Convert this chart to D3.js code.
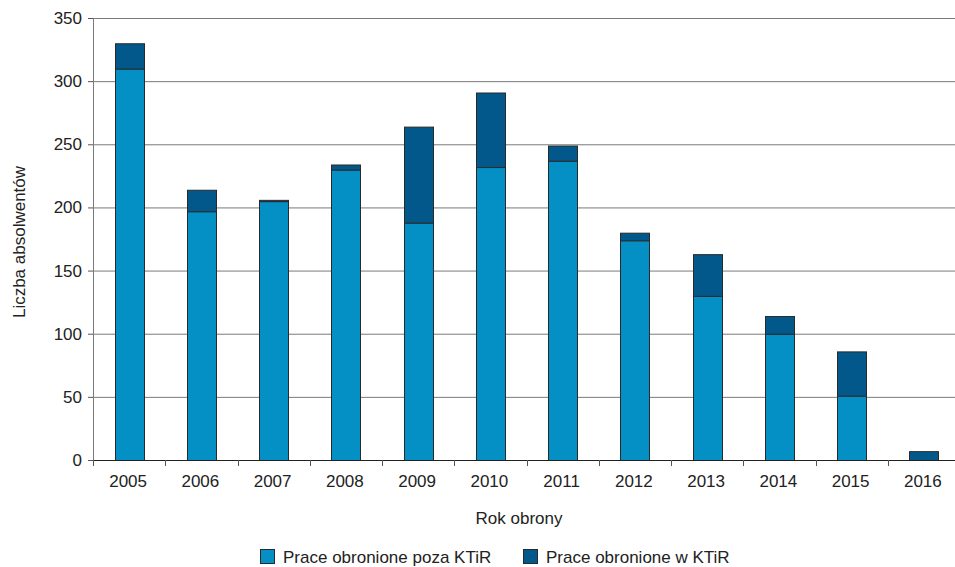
<!DOCTYPE html>
<html><head><meta charset="utf-8">
<script src="https://cdn.jsdelivr.net/npm/d3@7"></script>
<style>body{margin:0;background:#fff}svg{display:block;font-family:"Liberation Sans",Arial,sans-serif}</style>
</head><body><svg id="c" width="955" height="567"></svg>
<script>
const years = ["2005","2006","2007","2008","2009","2010","2011","2012","2013","2014","2015","2016"];
const outside = [310,197,205,230,188,232,237,174,130,100,51,0];
const inside = [20,17,1,4,76,59,12,6,33,14,35,7];
const yTicks = [0,50,100,150,200,250,300,350];
const seriesNames = ["Prace obronione poza KTiR","Prace obronione w KTiR"];
const colors = ["#0590c5","#02588b"];

const svg = d3.select("#c");
const m = {l:93, r:960, t:18, b:460};
const x = d3.scaleBand().domain(years).range([m.l, m.r]).paddingInner(0.6).paddingOuter(0.3);
const xb = d3.scaleBand().domain(years).range([m.l, m.r]);
const y = d3.scaleLinear().domain([0,350]).range([m.b, m.t]);

// gridlines
svg.append("g").selectAll("line").data(yTicks.filter(d=>d>0)).join("line")
  .attr("x1", m.l).attr("x2", 955).attr("y1", d=>y(d)+0.5).attr("y2", d=>y(d)+0.5)
  .attr("stroke", "#7a7a7a").attr("stroke-width", 1);

// bars
const data = years.map((yr,i)=>({year:yr, outside:outside[i], inside:inside[i]}));
const stack = d3.stack().keys(["outside","inside"])(data);
svg.append("g").selectAll("g").data(stack).join("g")
  .attr("fill", (d,i)=>colors[i])
  .selectAll("rect").data(d=>d.filter(e=>e[1]-e[0]>0)).join("rect")
  .attr("x", d=>Math.round(x(d.data.year))+0.5)
  .attr("width", Math.round(x.bandwidth()))
  .attr("y", d=>y(d[1])+0.5)
  .attr("height", d=>y(d[0])-y(d[1]))
  .attr("stroke", "#2a2a2a").attr("stroke-width", 1);

// y axis
svg.append("line").attr("x1", m.l+0.5).attr("x2", m.l+0.5).attr("y1", m.t).attr("y2", m.b)
  .attr("stroke", "#7a7a7a");
const yg = svg.append("g");
yg.selectAll("line").data(yTicks).join("line")
  .attr("x1", m.l-5).attr("x2", m.l).attr("y1", d=>y(d)+0.5).attr("y2", d=>y(d)+0.5)
  .attr("stroke", "#555");
yg.selectAll("text").data(yTicks).join("text")
  .attr("x", 82).attr("y", d=>y(d)).attr("dy","0.35em").attr("text-anchor","end")
  .attr("font-size", 17).attr("fill","#222").text(d=>d);

// x axis
svg.append("line").attr("x1", m.l).attr("x2", 955).attr("y1", m.b+0.5).attr("y2", m.b+0.5)
  .attr("stroke", "#222");
const xg = svg.append("g");
xg.selectAll("line").data(years).join("line")
  .attr("x1", d=>Math.round(xb(d))+0.5).attr("x2", d=>Math.round(xb(d))+0.5)
  .attr("y1", m.b).attr("y2", m.b+6).attr("stroke","#555");
xg.selectAll("text").data(years).join("text")
  .attr("x", d=>xb(d)+xb.bandwidth()/2 - 1).attr("y", 481).attr("dy","0.35em")
  .attr("text-anchor","middle").attr("font-size",17).attr("fill","#222").text(d=>d);

// axis titles
svg.append("text").attr("x", 519).attr("y", 518).attr("dy","0.35em").attr("text-anchor","middle")
  .attr("font-size",17).attr("fill","#222").text("Rok obrony");
svg.append("text").attr("transform","translate(19,242) rotate(-90)").attr("dy","0.35em")
  .attr("text-anchor","middle").attr("font-size",17).attr("fill","#222").text("Liczba absolwentów");

// legend
const legX = [260, 523];
const lg = svg.append("g").selectAll("g").data(seriesNames).join("g")
  .attr("transform", (d,i)=>`translate(${legX[i]},549)`);
lg.append("rect").attr("x",0.5).attr("y",0.5).attr("width",14).attr("height",14)
  .attr("fill",(d,i)=>colors[i]).attr("stroke","#2a2a2a");
lg.append("text").attr("x",23).attr("y",8).attr("dy","0.35em").attr("font-size",17)
  .attr("fill","#222").text(d=>d);
</script></body></html>
